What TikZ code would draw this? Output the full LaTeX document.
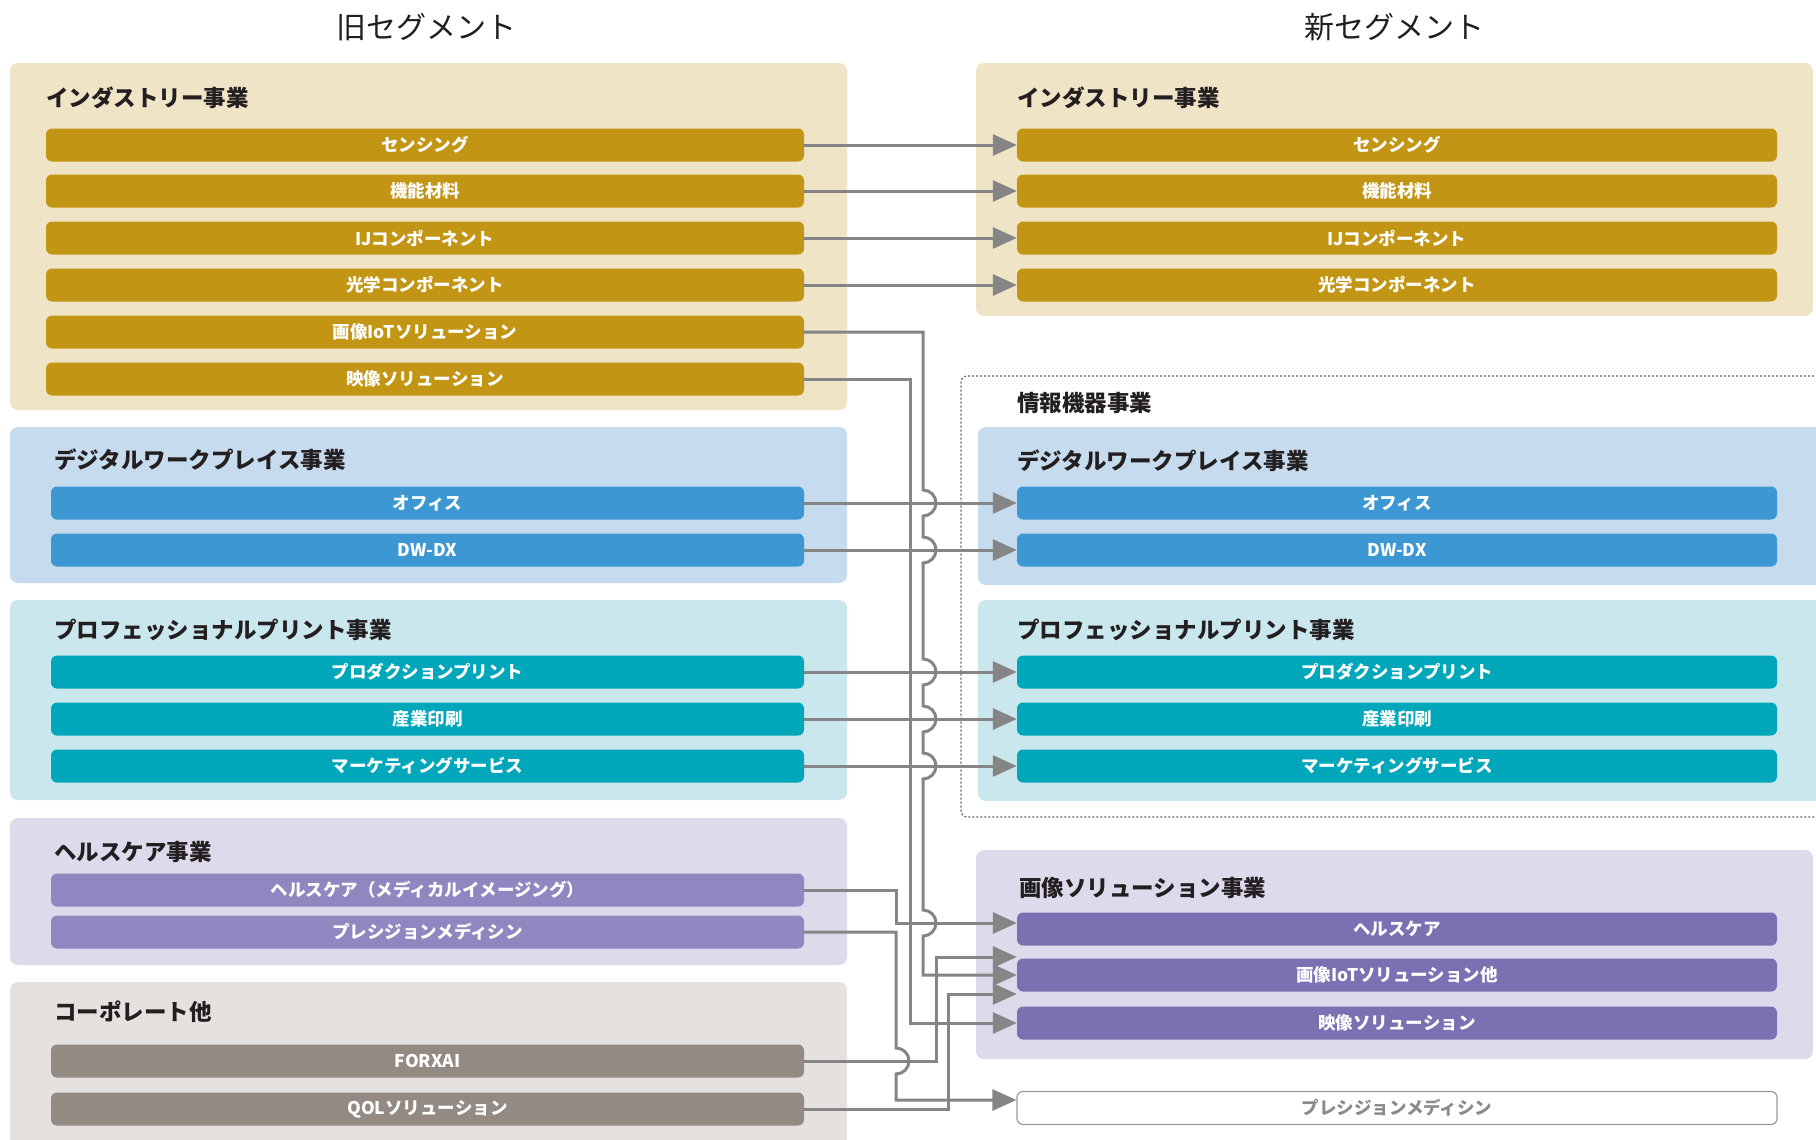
\documentclass[tikz,border=0pt]{standalone}
\usepackage{fontspec}
\setmainfont{Noto Sans CJK JP}
\usetikzlibrary{arrows.meta}
\definecolor{indbox}{HTML}{F0E4C7}
\definecolor{indbar}{HTML}{C39515}
\definecolor{dwbox}{HTML}{C7DBEF}
\definecolor{dwbar}{HTML}{3C97D3}
\definecolor{prbox}{HTML}{C9E7EC}
\definecolor{prbar}{HTML}{00A7BA}
\definecolor{hcbox}{HTML}{DDDAEC}
\definecolor{hcbar}{HTML}{9087C1}
\definecolor{imbar}{HTML}{7C70B3}
\definecolor{cpbox}{HTML}{E5E1DE}
\definecolor{cpbar}{HTML}{938A83}
\definecolor{conncol}{HTML}{858585}
\definecolor{ttlcol}{HTML}{231F20}
\definecolor{pmtext}{HTML}{8A8A8A}
\definecolor{pmedge}{HTML}{9A9A9A}
\definecolor{dotcol}{HTML}{666666}
\begin{document}
\begin{tikzpicture}[x=1pt,y=-1pt,
  grp/.style={rounded corners=8pt},
  bar/.style={rounded corners=6pt, minimum height=33pt, inner sep=0pt, text=white,
    font=\fontsize{17.5}{17.5}\selectfont\bfseries},
  lbarA/.style={bar, minimum width=758pt},
  lbarB/.style={bar, minimum width=753pt},
  rbar/.style={bar, minimum width=760pt},
  ttl/.style={anchor=west, inner sep=0pt, text=ttlcol, font=\fontsize{22.5}{22.5}\selectfont\bfseries},
  head/.style={inner sep=0pt, text=ttlcol, font=\fontsize{30}{30}\selectfont},
  conn/.style={draw=conncol, line width=3pt, -{Triangle[length=24pt,width=21pt]}},
]
\clip (0,0) rectangle (1816,1140);
\fill[white] (0,0) rectangle (1816,1140);

% headings
\node[head] (hOld) at (426,27) {旧セグメント};
\node[head] (hNew) at (1394,27) {新セグメント};

% ---------- left group boxes ----------
\fill[grp, indbox] (10,63) rectangle (847,410);
\fill[grp, dwbox]  (10,427) rectangle (847,583);
\fill[grp, prbox]  (10,600) rectangle (847,800);
\fill[grp, hcbox]  (10,818) rectangle (847,965);
\fill[grp, cpbox]  (10,982) rectangle (847,1170);

% ---------- right group boxes ----------
\fill[grp, indbox] (976,63) rectangle (1813,316);
\draw[dotcol, dash pattern=on 2pt off 2pt, line width=1.2pt, rounded corners=6pt]
  (1830,376) -- (961,376) -- (961,817) -- (1830,817);
\fill[grp, dwbox]  (978,427) rectangle (1830,585);
\fill[grp, prbox]  (978,600) rectangle (1830,801);
\fill[grp, hcbox]  (976,850) rectangle (1813,1059);

% ---------- titles ----------
\node[ttl] (tLInd) at (46,98)  {インダストリー事業};
\node[ttl] (tLDW)  at (54,460) {デジタルワークプレイス事業};
\node[ttl] (tLPr)  at (54,630) {プロフェッショナルプリント事業};
\node[ttl] (tLHC)  at (54,852) {ヘルスケア事業};
\node[ttl] (tLCp)  at (54,1012) {コーポレート他};
\node[ttl] (tRInd) at (1017,98)  {インダストリー事業};
\node[ttl] (tRInfo) at (1017,403) {情報機器事業};
\node[ttl] (tRDW)  at (1017,461) {デジタルワークプレイス事業};
\node[ttl] (tRPr)  at (1017,630) {プロフェッショナルプリント事業};
\node[ttl] (tRIm)  at (1019,888) {画像ソリューション事業};

% ---------- left bars ----------
\node[lbarA, fill=indbar] (lSen) at (425,145) {センシング};
\node[lbarA, fill=indbar] (lMat) at (425,191) {機能材料};
\node[lbarA, fill=indbar] (lIJ)  at (425,238) {IJコンポーネント};
\node[lbarA, fill=indbar] (lOpt) at (425,285) {光学コンポーネント};
\node[lbarA, fill=indbar] (lIoT) at (425,332) {画像IoTソリューション};
\node[lbarA, fill=indbar] (lVid) at (425,379) {映像ソリューション};
\node[lbarB, fill=dwbar] (lOff) at (427.5,503) {オフィス};
\node[lbarB, fill=dwbar] (lDX)  at (427.5,550) {DW-DX};
\node[lbarB, fill=prbar] (lPP)  at (427.5,672) {プロダクションプリント};
\node[lbarB, fill=prbar] (lIP)  at (427.5,719) {産業印刷};
\node[lbarB, fill=prbar] (lMS)  at (427.5,766) {マーケティングサービス};
\node[lbarB, fill=hcbar] (lMI)  at (427.5,890) {ヘルスケア（メディカルイメージング）};
\node[lbarB, fill=hcbar] (lPM)  at (427.5,932) {プレシジョンメディシン};
\node[lbarB, fill=cpbar] (lFX)  at (427.5,1061) {FORXAI};
\node[lbarB, fill=cpbar] (lQOL) at (427.5,1109) {QOLソリューション};

% ---------- right bars ----------
\node[rbar, fill=indbar] (rSen) at (1397,145) {センシング};
\node[rbar, fill=indbar] (rMat) at (1397,191) {機能材料};
\node[rbar, fill=indbar] (rIJ)  at (1397,238) {IJコンポーネント};
\node[rbar, fill=indbar] (rOpt) at (1397,285) {光学コンポーネント};
\node[rbar, fill=dwbar] (rOff) at (1397,503) {オフィス};
\node[rbar, fill=dwbar] (rDX)  at (1397,550) {DW-DX};
\node[rbar, fill=prbar] (rPP)  at (1397,672) {プロダクションプリント};
\node[rbar, fill=prbar] (rIP)  at (1397,719) {産業印刷};
\node[rbar, fill=prbar] (rMS)  at (1397,766) {マーケティングサービス};
\node[rbar, fill=imbar] (rHC)  at (1397,929) {ヘルスケア};
\node[rbar, fill=imbar] (rIoT) at (1397,975) {画像IoTソリューション他};
\node[rbar, fill=imbar] (rVid) at (1397,1023) {映像ソリューション};
\node[rbar, fill=white, draw=pmedge, line width=1.2pt, text=pmtext] (rPM) at (1397,1108) {プレシジョンメディシン};

% arrow end points
\coordinate (eHC)  at ([yshift=6pt]rHC.west);
\coordinate (eFX)  at ([yshift=18pt]rIoT.west);
\coordinate (eQOL) at ([yshift=-19pt]rIoT.west);
\coordinate (ePM)  at ([yshift=8pt]rPM.west);

% ---------- connectors ----------
\draw[conn] (lSen.east) -- (rSen.west);
\draw[conn] (lMat.east) -- (rMat.west);
\draw[conn] (lIJ.east)  -- (rIJ.west);
\draw[conn] (lOpt.east) -- (rOpt.west);
\draw[conn] (lOff.east) -- (rOff.west);
\draw[conn] (lDX.east)  -- (rDX.west);
\draw[conn] (lPP.east)  -- (rPP.west);
\draw[conn] (lIP.east)  -- (rIP.west);
\draw[conn] (lMS.east)  -- (rMS.west);

\draw[conn] (lVid.east) -- ++(106,0) |- (rVid.west);
\draw[conn] (lMI.east) -- ++(92,0) |- (eHC);

\draw[conn] (lIoT.east) -- ++(119,0)
  -- (923,490) arc[start angle=90, end angle=-90, radius=13pt]
  -- (923,537) arc[start angle=90, end angle=-90, radius=13pt]
  -- (923,659) arc[start angle=90, end angle=-90, radius=13pt]
  -- (923,706) arc[start angle=90, end angle=-90, radius=13pt]
  -- (923,753) arc[start angle=90, end angle=-90, radius=13pt]
  -- (923,910) arc[start angle=90, end angle=-90, radius=13pt]
  |- (rIoT.west);

\draw[conn] (lPM.east) -- ++(92,0)
  -- (896,1048) arc[start angle=90, end angle=-90, radius=13pt]
  |- (ePM);

\draw[conn] (lFX.east) -- ++(132,0) |- (eFX);
\draw[conn] (lQOL.east) -- ++(144,0) |- (eQOL);
\end{tikzpicture}
\end{document}
